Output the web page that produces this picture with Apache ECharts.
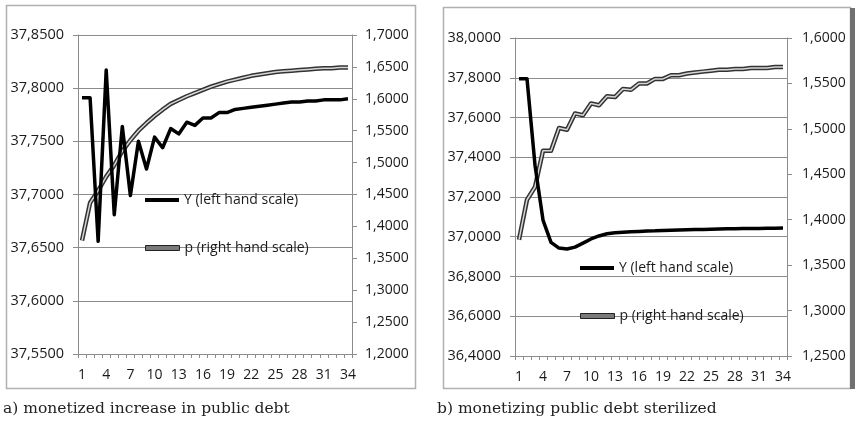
<!DOCTYPE html>
<html><head><meta charset="utf-8">
<script src="https://cdn.jsdelivr.net/npm/echarts@6/dist/echarts.min.js"></script>
<style>html,body{margin:0;padding:0;background:#fff}#c{width:855px;height:424px}</style>
</head><body><div id="c"></div>
<script>
const categories = ['1','2','3','4','5','6','7','8','9','10','11','12','13','14','15','16','17','18','19','20','21','22','23','24','25','26','27','28','29','30','31','32','33','34'];

// a) monetized increase in public debt
const yA = [37.791,37.791,37.656,37.817,37.681,37.764,37.699,37.750,37.724,37.754,37.744,37.762,37.757,37.768,37.765,37.772,37.772,37.777,37.777,37.780,37.781,37.782,37.783,37.784,37.785,37.786,37.787,37.787,37.788,37.788,37.789,37.789,37.789,37.790];
const pA = [1.378,1.437,1.456,1.478,1.496,1.518,1.535,1.550,1.562,1.573,1.583,1.592,1.598,1.604,1.609,1.614,1.619,1.623,1.627,1.630,1.633,1.636,1.638,1.640,1.642,1.643,1.644,1.645,1.646,1.647,1.648,1.648,1.649,1.649];

// b) monetizing public debt sterilized
const yB = [37.795,37.795,37.360,37.084,36.972,36.943,36.938,36.948,36.968,36.989,37.004,37.015,37.020,37.023,37.025,37.027,37.029,37.030,37.032,37.033,37.034,37.035,37.036,37.037,37.038,37.039,37.040,37.040,37.041,37.042,37.042,37.043,37.043,37.044];
const pB = [1.378,1.422,1.436,1.476,1.476,1.501,1.499,1.517,1.515,1.528,1.526,1.536,1.535,1.544,1.543,1.550,1.550,1.555,1.555,1.559,1.559,1.561,1.562,1.563,1.564,1.565,1.565,1.566,1.566,1.567,1.567,1.567,1.568,1.568];

// axis tick values
const ticksAL = [37.55,37.60,37.65,37.70,37.75,37.80,37.85];
const ticksAR = [1.20,1.25,1.30,1.35,1.40,1.45,1.50,1.55,1.60,1.65,1.70];
const ticksBL = [36.4,36.6,36.8,37.0,37.2,37.4,37.6,37.8,38.0];
const ticksBR = [1.25,1.30,1.35,1.40,1.45,1.50,1.55,1.60];

const legendNames = ['Y (left hand scale)','p (right hand scale)'];
const captions = ['a) monetized increase in public debt','b) monetizing public debt sterilized'];

const GRAY = '#8c8c8c';
const FONT = 'Open Sans';

function yAx(ticks, gi, pos, split, margin, fs){
  return {
    type:'value', gridIndex:gi, position:pos,
    min:ticks[0], max:ticks[ticks.length-1],
    interval:Number((ticks[1]-ticks[0]).toFixed(4)),
    axisLine:{show:true,lineStyle:{color:GRAY,width:1}},
    axisTick:{show:true,length:5,lineStyle:{color:GRAY}},
    splitLine:{show:split,lineStyle:{color:GRAY,width:1}},
    axisLabel:{margin:margin,color:'#1a1a1a',fontFamily:FONT,fontSize:fs,
      formatter:v=>v.toFixed(4).replace('.',',')}
  };
}
function xAx(gi){
  return {
    type:'category', gridIndex:gi, data:categories, boundaryGap:true,
    axisLine:{show:true,lineStyle:{color:GRAY,width:1}},
    axisTick:{show:true,interval:0,length:4,lineStyle:{color:GRAY}},
    splitLine:{show:false},
    axisLabel:{interval:2,margin:14,color:'#1a1a1a',fontFamily:FONT,fontSize:14}
  };
}
function lineS(name, data, xi, yi, color, width, z){
  return {name, type:'line', xAxisIndex:xi, yAxisIndex:yi, data, showSymbol:false, symbol:'none',
    lineStyle:{color, width, join:'round'}, itemStyle:{color}, z, animation:false, silent:true};
}
function leg(name, left, top, isP){
  return {left, top, itemWidth:34, itemHeight:isP?5:4, icon:'rect', selectedMode:false,
    textStyle:{fontFamily:FONT,fontSize:14,color:'#1a1a1a'}, itemGap:0,
    data:[{name, icon:'rect', itemStyle: isP?{color:'#7a7a7a',borderColor:'#222',borderWidth:1}:{color:'#000'}}]};
}

const chart = echarts.init(document.getElementById('c'), null, {renderer:'canvas'});
chart.setOption({
  backgroundColor:'#fff',
  animation:false,
  title:[
    {text:captions[0], left:3, top:401, padding:0, textStyle:{fontFamily:'DejaVu Serif',fontSize:15.5,fontWeight:'normal',color:'#222'}},
    {text:captions[1], left:437, top:401, padding:0, textStyle:{fontFamily:'DejaVu Serif',fontSize:15.5,fontWeight:'normal',color:'#222'}}
  ],
  grid:[
    {left:78, top:35, width:274, height:319},
    {left:515, top:38, width:272, height:318}
  ],
  xAxis:[xAx(0), xAx(1)],
  yAxis:[
    yAx(ticksAL,0,'left',true,14,14.5),
    yAx(ticksAR,0,'right',false,13,14),
    yAx(ticksBL,1,'left',true,14,14.5),
    yAx(ticksBR,1,'right',false,15,14)
  ],
  legend:[
    leg(legendNames[0],140,188,false),
    leg(legendNames[1],140,236,true),
    leg(legendNames[0],575,256,false),
    leg(legendNames[1],575,304,true)
  ],
  graphic:[
    {type:'rect', shape:{x:6.5,y:5.5,width:409,height:383}, style:{fill:'none',stroke:'#b0b0b0',lineWidth:1.5}, silent:true},
    {type:'rect', shape:{x:443.5,y:7.5,width:407,height:381}, style:{fill:'none',stroke:'#b0b0b0',lineWidth:1.5}, silent:true},
    {type:'rect', shape:{x:850,y:8,width:5,height:381}, style:{fill:'#707070'}, silent:true}
  ],
  series:[
    lineS(legendNames[1], pA, 0, 1, '#333', 4.5, 2),
    lineS('p-inner-a', pA, 0, 1, '#d6d6d6', 1.5, 3),
    lineS(legendNames[0], yA, 0, 0, '#000', 3.5, 4),
    lineS(legendNames[1], pB, 1, 3, '#333', 4.5, 2),
    lineS('p-inner-b', pB, 1, 3, '#d6d6d6', 1.5, 3),
    lineS(legendNames[0], yB, 1, 2, '#000', 3.5, 4)
  ]
});
</script></body></html>
